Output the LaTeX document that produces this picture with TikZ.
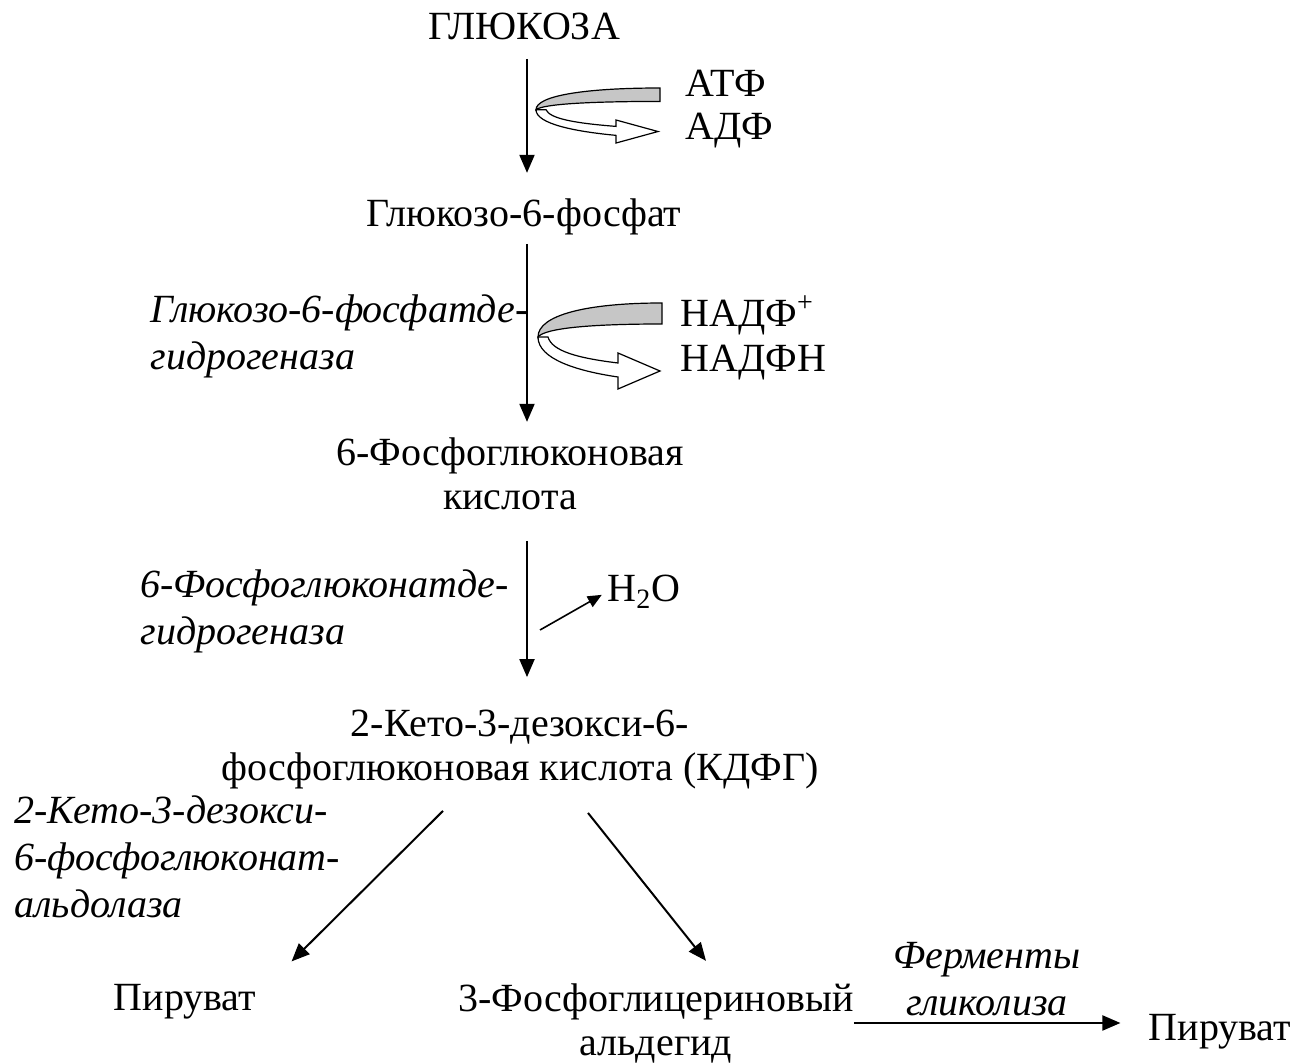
\documentclass[tikz,border=0pt]{standalone}
\usepackage{fontspec}
\setmainfont{Liberation Serif}
\usetikzlibrary{arrows.meta,calc}

% turning cofactor arrow (ribbon), #1 = top right corner, #2 = height factor
\newcommand{\cofactorarrow}[2]{%
  \begin{scope}[shift={#1},yscale=#2]
    \draw[line width=0.6pt,fill=white] (-124,34) .. controls (-124,56) and (-85,68) .. (-44,74)
      -- (-44,86) -- (-2,68) -- (-44,50) -- (-44,60) .. controls (-85,55) and (-110,48) .. (-114,34) -- cycle;
    \draw[line width=0.6pt,fill=gray!45] (0,0) .. controls (-75,0) and (-124,12) .. (-124,34)
      .. controls (-117,25) and (-70,21) .. (0,21) -- cycle;
  \end{scope}}

\begin{document}
\begin{tikzpicture}[x=0.5pt,y=-0.5pt,
    font=\fontsize{20}{22}\selectfont,
    every node/.style={inner sep=0pt},
    enz/.style={font=\fontsize{20}{23.5}\selectfont\itshape, align=left},
    flow/.style={-{Triangle[length=9pt,width=7.5pt]}, line width=1pt}]
    \useasboundingbox (0,0) rectangle (1298,1064);

    % Pathway
    \node[anchor=base] (glucose) at (524,40) {ГЛЮКОЗА};
    \node[anchor=base] (g6p) at (524,227) {Глюкозо-6-фосфат};
    \node[anchor=base, align=center] (pgluc) at (510,510) {6-Фосфоглюконовая\\кислота};
    \node[anchor=base, align=center] (kdpg) at (520,780) {2-Кето-3-дезокси-6-\\фосфоглюконовая кислота (КДФГ)};
    \node[anchor=base] (pyr1) at (185,1010) {Пируват};
    \node[anchor=base, align=center] (gap) at (656,1055) {3-Фосфоглицериновый\\альдегид};
    \node[anchor=base] (pyr2) at (1220,1040) {Пируват};

    % Cofactors
    \node[anchor=base west] (atp) at (685,97) {АТФ};
    \node[anchor=base west] (adp) at (685,140) {АДФ};
    \node[anchor=base west] (nadp) at (680,327) {НАДФ\textsuperscript{+}};
    \node[anchor=base west] (nadph) at (680,372) {НАДФН};
    \node[anchor=base west] (water) at (607,602) {H\textsubscript{2}O};

    % Enzymes
    \node[enz, anchor=base west] (g6pdh) at (150,370) {Глюкозо-6-фосфатде-\\гидрогеназа};
    \node[enz, anchor=base west] (pgdh) at (140,645) {6-Фосфоглюконатде-\\гидрогеназа};
    \node[enz, anchor=base west] (kdpga) at (14,917) {2-Кето-3-дезокси-\\6-фосфоглюконат-\\альдолаза};
    \node[enz, align=center, anchor=base] (glyc) at (987,1015) {Ферменты\\гликолиза};

    % Arrows
    \coordinate (axis) at (527,0);
    \draw[flow, shorten <=9pt, shorten >=13pt] (glucose.south -| axis) -- (g6p.north -| axis);
    \draw[flow, shorten <=4pt, shorten >=8pt] (g6p.south -| axis) -- (pgluc.north -| axis);
    \draw[flow, shorten <=15pt, shorten >=16pt] (pgluc.south -| axis) -- (kdpg.north -| axis);
    \draw[flow] ($(kdpg.south)+(-77,22)$) -- ($(pyr1.north east)+(35,-22)$);
    \draw[flow] ($(kdpg.south)+(68,24)$) -- ($(gap.north)+(50,-22)$);
    \draw[flow, shorten >=14pt] (gap.east) -- (gap.east -| pyr2.west);
    \coordinate (split) at (540,630);
    \draw[-{Triangle[length=7pt,width=6pt]}, line width=0.8pt, shorten >=3pt] (split) -- (water.west);

    \cofactorarrow{(660,88)}{0.64}
    \cofactorarrow{(662,303)}{1}
\end{tikzpicture}
\end{document}
